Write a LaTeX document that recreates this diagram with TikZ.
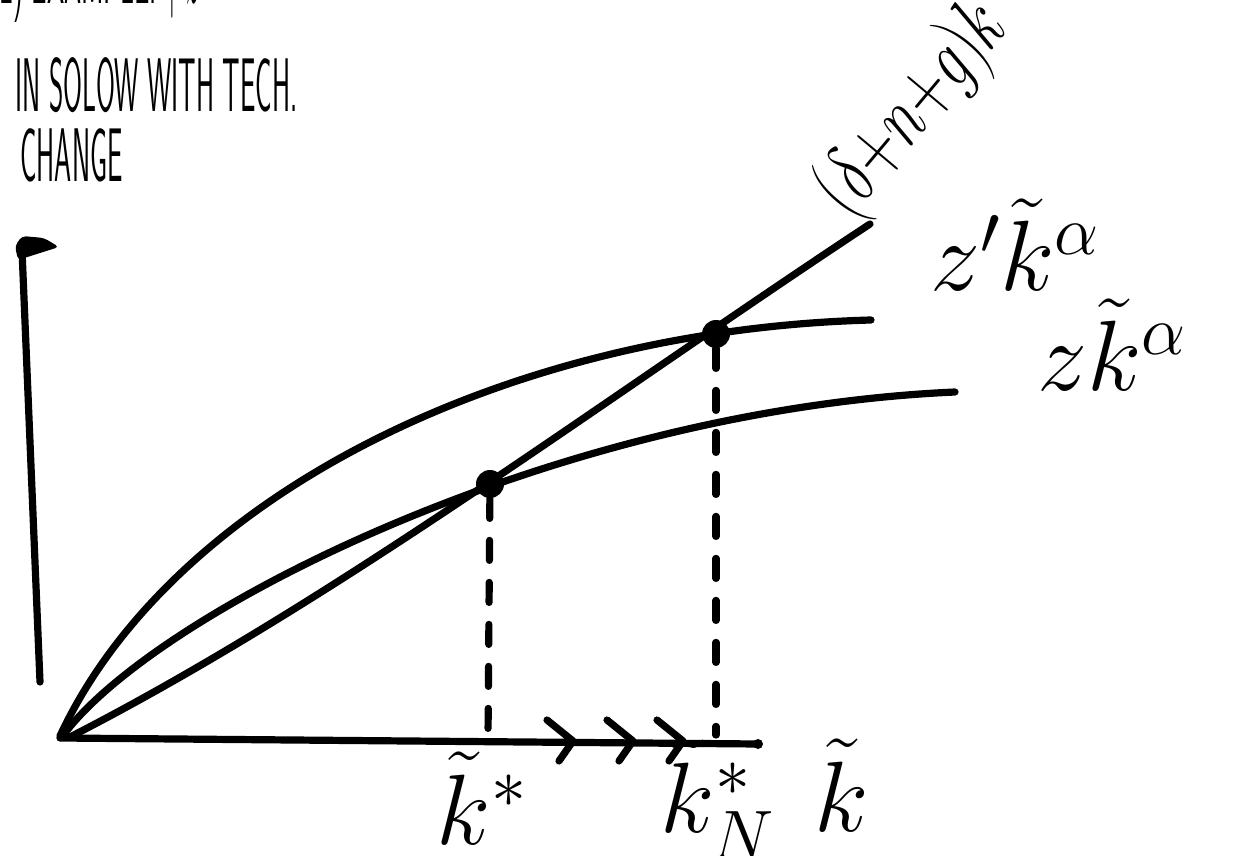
\RequirePackage{fix-cm}
\documentclass[tikz,border=0pt]{standalone}
\usepackage{amsmath}
\usepackage{amssymb}
\usepackage{graphicx}
\usepackage{tikz}
\usepackage{xcolor}

\newcommand{\squeeze}[1]{\scalebox{0.36}[1]{#1}}

\tikzset{
  stroke/.style={line width=3.6pt, line cap=round, line join=round},
  guide/.style={line width=3.6pt, line cap=round, dash pattern=on 10pt off 11pt},
  eqdot/.style={circle, fill=black, inner sep=0pt, minimum size=14pt},
  hand/.style={font=\sffamily\fontsize{38}{44}\selectfont, inner sep=0pt},
  lab/.style={font=\fontsize{50}{58}\selectfont, inner sep=0pt}
}

\begin{document}
\begin{tikzpicture}[x=0.5pt,y=-0.5pt]
        \clip (0,0) rectangle (1249,856);
        % heading
        \node[hand, anchor=base west] (hd0) at (0,4) {\squeeze{2) EXAMPLE: $\uparrow z$}};
        \node[hand, anchor=west] (hd1) at (15,85) {\squeeze{IN SOLOW WITH TECH.}};
        \node[hand, anchor=west] (hd2) at (20,155) {\squeeze{CHANGE}};
        % axes
        \coordinate (O) at (60,738);
        \coordinate (ytop) at (22,250);
        \coordinate (ybot) at (40,682);
        \coordinate (xend) at (758,744);
        \draw[stroke] (ytop) -- (ybot);
        \fill[rounded corners=2pt] (15,246) -- (22,236) -- (44,238) -- (59,247) -- (40,253) -- (18,260) -- cycle;
        \draw[stroke] (O) -- (xend);
        \fill (xend) circle (5);
        \foreach \t in {573,633,683}
          \draw[stroke] (\t-26,720) -- (\t,741) -- (\t-14,761);
        % curves
        \draw[stroke] (60,736) .. controls (170,500) and (500,330) .. (871,320);
        \draw[stroke] (62,737) .. controls (150,615) and (550,410) .. (955,392);
        \draw[stroke] (70,737) .. controls (337,600) and (603,400) .. (870,224);
        % steady states
        \node[eqdot] (eqold) at (490,484) {};
        \node[eqdot] (eqnew) at (716,334) {};
        \coordinate (kold) at (488,738);
        \coordinate (knew) at (716,735);
        \draw[guide] (eqold) -- (kold);
        \draw[guide] (eqnew) -- (knew);
        % labels
        \node[lab] (kstar) at (482,798) {$\tilde{k}^{*}$};
        \node[lab] (kstarN) at (718,800) {$\tilde{k}^{*}_{N}$};
        \node[lab] (kaxis) at (842,785) {$\tilde{k}$};
        \node[lab] (fnew) at (1015,245) {$z'\tilde{k}^{\alpha}$};
        \node[lab] (fold) at (1112,345) {$z\tilde{k}^{\alpha}$};
        \node[lab, font=\fontsize{42}{48}\selectfont, rotate=50] (dep) at (914,110) {\scalebox{0.7}[1]{$(\delta{+}n{+}g)k$}};
      \end{tikzpicture}
\end{document}
